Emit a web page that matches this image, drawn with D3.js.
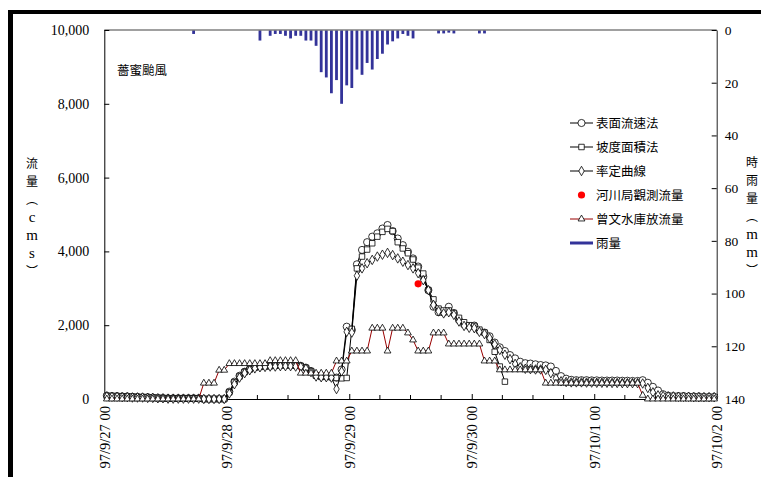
<!DOCTYPE html>
<meta charset="utf-8">
<script src="https://cdn.jsdelivr.net/npm/d3@7"></script>
<style>
body { margin: 0; background: white; }
svg text { font-family: "Liberation Serif", "Times New Roman", serif; fill: #000; }
svg .cjk { font-family: "Noto Sans CJK TC", "Noto Sans CJK SC", sans-serif; }
</style>
<body>
<svg id="chart" width="761" height="477"></svg>
<script>
// hourly values, 97/9/27 00 .. 97/10/2 00 (120 hours)
var dayLabels = ["97/9/27 00", "97/9/28 00", "97/9/29 00", "97/9/30 00", "97/10/1 00", "97/10/2 00"];
var flowTicks = [0, 2000, 4000, 6000, 8000, 10000];
var rainTicks = [0, 20, 40, 60, 80, 100, 120, 140];

// 表面流速法
var surfaceFlow = [
  90, 80, 80, 70, 70, 60, 60, 50, 50, 40,
  30, 30, 20, 20, 20, 20, 20, 20, 20, 0,
  0, 0, 0, 0, 200, 470, 630, 740, 810, 860,
  880, 890, 900, 910, 920, 920, 920, 910, 900, 850,
  760, 640, 610, 610, 600, 580, 800, 1960, 1870, 3650,
  4040, 4250, 4400, 4490, 4620, 4715, 4550, 4350, 4170, 3990,
  3810, 3590, 3310, 2950, 2500, 2350, 2340, 2500, 2330, 2140,
  2020, 1970, 1990, 1850, 1800, 1700, 1530, 1400, 1300, 1190,
  1100, 1010, 970, 960, 940, 920, 910, 880, 760, 620,
  550, 520, 510, 510, 510, 505, 505, 500, 500, 500,
  500, 495, 495, 490, 490, 510, 440, 330, 230, 130,
  90, 80, 80, 80, 70, 70, 70, 60, 60, 60
];
// 坡度面積法 (ends at hour 78)
var slopeFlow = [
  80, 80, 70, 70, 60, 60, 50, 50, 40, 40,
  30, 20, 20, 20, 20, 20, 20, 20, 20, 0,
  0, 0, 0, 0, 180, 450, 610, 730, 800, 850,
  870, 880, 890, 900, 910, 910, 910, 900, 890, 840,
  750, 630, 600, 600, 590, 570, 560, 570, 1900, 3540,
  3860, 4050, 4220, 4400, 4530, 4610, 4550, 4250, 4080, 3950,
  3780, 3560, 3400, 2950, 2700, 2450, 2400, 2400, 2330, 2200,
  2080, 2000, 1980, 1880, 1800, 1600, 1280, 880, 470
];
// 率定曲線
var ratingFlow = [
  70, 60, 60, 50, 50, 40, 40, 40, 30, 30,
  20, 20, 10, 10, 10, 10, 10, 10, 10, 0,
  0, 0, 0, 0, 150, 400, 580, 700, 780, 830,
  860, 870, 880, 880, 890, 890, 890, 880, 870, 820,
  730, 610, 590, 590, 580, 270, 750, 1820, 1800, 3340,
  3540, 3680, 3770, 3860, 3910, 3960, 3900, 3810, 3720, 3630,
  3540, 3410, 3220, 2950, 2550, 2380, 2320, 2350, 2280, 2100,
  1980, 1930, 1920, 1820, 1760, 1650, 1480, 1330, 1200, 1080,
  950, 860, 820, 810, 800, 800, 790, 700, 560, 480,
  460, 450, 450, 450, 445, 445, 440, 440, 440, 435,
  435, 430, 430, 430, 430, 420, 300, 180, 100, 80,
  70, 70, 60, 60, 60, 50, 50, 50, 50, 50
];
// 河川局觀測流量
var obsHour = [61];
var obsFlow = [3120];
// 曾文水庫放流量
var reservoirFlow = [
  0, 0, 0, 0, 0, 0, 0, 0, 0, 0,
  0, 0, 0, 0, 0, 0, 0, 0, 0, 430,
  430, 430, 780, 780, 960, 960, 960, 960, 960, 960,
  960, 960, 1040, 1040, 1040, 1040, 1040, 1040, 700, 700,
  700, 700, 700, 700, 700, 1030, 1030, 1030, 1300, 1300,
  1300, 1300, 1920, 1920, 1920, 1300, 1920, 1920, 1920, 1790,
  1600, 1300, 1300, 1300, 1790, 1790, 1790, 1490, 1490, 1490,
  1490, 1490, 1490, 1490, 1030, 1030, 1030, 790, 790, 790,
  790, 790, 790, 790, 790, 790, 430, 430, 430, 430,
  430, 430, 430, 430, 430, 430, 430, 430, 430, 430,
  430, 430, 430, 430, 430, 100, 0, 0, 0, 0,
  0, 0, 0, 0, 0, 0, 0, 0, 0, 0
];
// 雨量 (mm/hr)
var rain = [
  0, 0, 0, 0, 0, 0, 0, 0, 0, 0,
  0, 0, 0, 0, 0, 0, 0, 1.5, 0, 0,
  0, 0, 0, 0, 0, 0, 0, 0, 0, 0,
  4, 0, 2.2, 1.5, 1.5, 2.2, 3.2, 2.2, 2.2, 4,
  4, 6, 16, 18, 24, 19, 28, 21, 22, 15,
  17, 12.5, 15, 11, 9, 5.5, 4.3, 3.2, 1.5, 2.2,
  3.2, 0, 0, 0, 0, 1.3, 1.3, 1, 1.3, 0,
  0, 0, 0, 1.3, 1.3, 0, 0, 0, 0, 0,
  0, 0, 0, 0, 0, 0, 0, 0, 0, 0,
  0, 0, 0, 0, 0, 0, 0, 0, 0, 0,
  0, 0, 0, 0, 0, 0, 0, 0, 0, 0,
  0, 0, 0, 0, 0, 0, 0, 0, 0, 0
];

var svg = d3.select("#chart");
var plotL = 104.3, plotR = 716.7, plotT = 30, plotB = 399;

var x = d3.scaleLinear().domain([0, 120]).range([plotL, plotR]);
var y = d3.scaleLinear().domain([0, 10000]).range([plotB, plotT]);
var yRain = d3.scaleLinear().domain([0, 140]).range([plotT, plotB]);

// frame edges
svg.append("rect").attr("x", 8).attr("y", 10).attr("width", 753).attr("height", 4).attr("fill", "#000");
svg.append("rect").attr("x", 8).attr("y", 10).attr("width", 5).attr("height", 467).attr("fill", "#000");

// rain bars hanging from the top
svg.append("g").selectAll("rect")
  .data(rain)
  .enter().append("rect")
  .attr("x", function(d, i) { return x(i + 0.5) - 1.4; })
  .attr("y", plotT)
  .attr("width", 2.8)
  .attr("height", function(d) { return yRain(d) - plotT; })
  .attr("fill", "#333399");

svg.append("line")
  .attr("x1", plotL).attr("x2", plotR).attr("y1", plotT).attr("y2", plotT)
  .attr("stroke", "#808080").attr("stroke-width", 1.5);

// left axis
var gLeft = svg.append("g")
  .attr("transform", "translate(" + plotL + ",0)")
  .call(d3.axisLeft(y).tickValues(flowTicks).tickFormat(d3.format(","))
    .tickSizeInner(-5).tickSizeOuter(0).tickPadding(15));
gLeft.selectAll("text").style("font-size", "14px");

// right axis
var gRight = svg.append("g")
  .attr("transform", "translate(" + plotR + ",0)")
  .call(d3.axisRight(yRain).tickValues(rainTicks)
    .tickSizeInner(-5).tickSizeOuter(0).tickPadding(8));
gRight.selectAll("text").style("font-size", "13.5px");
gRight.select(".domain").attr("stroke", "#222");

// bottom axis: day labels + 6h minor ticks
var gBottom = svg.append("g")
  .attr("transform", "translate(0," + plotB + ")")
  .call(d3.axisBottom(x).tickValues(d3.range(0, 121, 24))
    .tickFormat(function(d, i) { return dayLabels[i]; })
    .tickSizeInner(-5).tickSizeOuter(0));
gBottom.selectAll("text")
  .attr("transform", "rotate(-90)")
  .attr("x", -7).attr("y", 0).attr("dy", "0.35em")
  .attr("text-anchor", "end")
  .style("font-size", "14.5px");
gBottom.selectAll(".minor")
  .data(d3.range(6, 120, 6).filter(function(d) { return d % 24 != 0; }))
  .enter().append("line")
  .attr("class", "minor")
  .attr("x1", function(d) { return x(d); }).attr("x2", function(d) { return x(d); })
  .attr("y1", 0).attr("y2", -4)
  .attr("stroke", "#000");

// series
var line = d3.line()
  .defined(function(d) { return d != null; })
  .x(function(d, i) { return x(i + 0.5); })
  .y(function(d) { return y(d); });

function drawSeries(values, color, symbol, size) {
  var g = svg.append("g");
  g.append("path")
    .attr("d", line(values))
    .attr("fill", "none")
    .attr("stroke", color)
    .attr("stroke-width", 1);
  g.selectAll("path.mk")
    .data(values)
    .enter().append("path")
    .attr("class", "mk")
    .attr("transform", function(d, i) { return "translate(" + x(i + 0.5) + "," + y(d) + ")"; })
    .attr("d", d3.symbol().type(symbol).size(size))
    .attr("fill", "white")
    .attr("stroke", "#000")
    .attr("stroke-width", 0.8);
}

drawSeries(surfaceFlow, "#000", d3.symbolCircle, 40);
drawSeries(slopeFlow, "#000", d3.symbolSquare, 30);
drawSeries(ratingFlow, "#000", d3.symbolDiamond, 26);

svg.append("g").selectAll("circle")
  .data(obsFlow)
  .enter().append("circle")
  .attr("cx", function(d, i) { return x(obsHour[i] + 0.5); })
  .attr("cy", function(d) { return y(d); })
  .attr("r", 3.6)
  .attr("fill", "#ff0000");

drawSeries(reservoirFlow, "#990000", d3.symbolTriangle, 20);

// title
svg.append("text").attr("class", "cjk")
  .attr("x", 117).attr("y", 75)
  .style("font-size", "12.5px")
  .text("薔蜜颱風");

// axis titles, stacked vertically as one text each
var leftTitle = ["流", "量", "︵", "c", "m", "s", "︶"];
var rightTitle = ["時", "雨", "量", "︵", "m", "m", "︶"];
function stackTitle(chars, cx, y0) {
  var t = svg.append("text")
    .attr("class", "cjk")
    .attr("text-anchor", "middle")
    .style("font-size", "12px");
  t.selectAll("tspan")
    .data(chars)
    .enter().append("tspan")
    .attr("x", cx)
    .attr("y", function(d, i) { return y0 + i * 18 + 5; })
    .style("font-family", function(d) { return /[a-z]/.test(d) ? "'Liberation Serif', serif" : null; })
    .style("font-size", function(d) { return /[a-z]/.test(d) ? "15px" : null; })
    .text(function(d) { return d; });
}
stackTitle(leftTitle, 32, 163);
stackTitle(rightTitle, 752, 162);

// legend
var legendNames = ["表面流速法", "坡度面積法", "率定曲線", "河川局觀測流量", "曾文水庫放流量", "雨量"];
var legendY = [123, 147, 171, 195, 219, 243];
var lg = svg.append("g");
legendNames.forEach(function(name, i) {
  var ly = legendY[i];
  if (i < 3 || i == 4) {
    lg.append("line").attr("x1", 570).attr("x2", 593).attr("y1", ly).attr("y2", ly)
      .attr("stroke", i == 4 ? "#990000" : "#000").attr("stroke-width", 1);
    var sym = [d3.symbolCircle, d3.symbolSquare, d3.symbolDiamond, null, d3.symbolTriangle][i];
    var sz = [40, 30, 26, 0, 20][i];
    lg.append("path").attr("transform", "translate(581.5," + ly + ")")
      .attr("d", d3.symbol().type(sym).size(sz))
      .attr("fill", "white").attr("stroke", "#000").attr("stroke-width", 0.8);
  } else if (i == 3) {
    lg.append("circle").attr("cx", 581.5).attr("cy", ly).attr("r", 3.6).attr("fill", "#ff0000");
  } else {
    lg.append("line").attr("x1", 570).attr("x2", 593).attr("y1", ly).attr("y2", ly)
      .attr("stroke", "#333399").attr("stroke-width", 3);
  }
  lg.append("text").attr("class", "cjk")
    .attr("x", 596).attr("y", ly).attr("dy", "0.36em")
    .style("font-size", "12.5px")
    .text(name);
});
</script>
</body>
